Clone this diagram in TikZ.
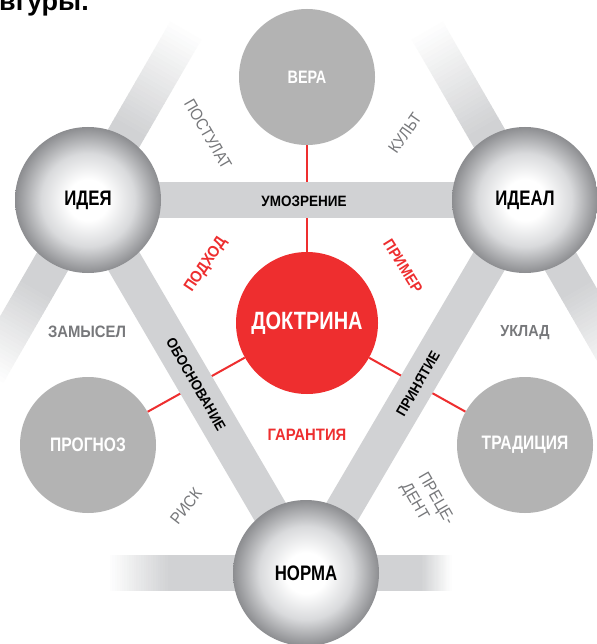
\documentclass[tikz,border=0pt]{standalone}
\usepackage{fontspec}
\setmainfont{Liberation Sans}[FakeStretch=0.9]
\newfontfamily\condfont{Liberation Sans}[FakeStretch=0.8]
\newfontfamily\titlefont{Liberation Sans}
\definecolor{bandc}{HTML}{D1D2D4}
\definecolor{circgray}{HTML}{B3B3B3}
\definecolor{sphgray}{HTML}{8C8D90}
\definecolor{sphmid}{HTML}{D9DADC}
\definecolor{redc}{HTML}{EE2E2F}
\definecolor{labgray}{HTML}{77787B}
\pgfdeclarelayer{bgw}
\pgfdeclarelayer{lines}
\pgfdeclarelayer{bands}
\pgfsetlayers{bgw,lines,bands,main}
\pgfdeclareradialshading{ball}{\pgfpoint{0bp}{0bp}}{color(0bp)=(white); color(7bp)=(white); color(16bp)=(sphmid); color(25bp)=(sphgray); color(50bp)=(sphgray)}
\newcommand\fadeband[4]{%
 \begin{scope}[shift={(#1.center)},rotate=#2]
 \fill[bandc] (0,-18) rectangle (#3+0.5,18);
 \foreach \i in {0,...,24}{%
   \pgfmathtruncatemacro\pc{100-4*\i}%
   \pgfmathsetmacro\xa{#3+#4*\i/25}%
   \pgfmathsetmacro\xb{#3+#4*(\i+1)/25+0.5}%
   \fill[bandc!\pc!white] (\xa,-18) rectangle (\xb,18);
 }%
 \end{scope}}
\tikzset{
 sphere/.style={circle, minimum size=146pt, inner sep=0pt, shade, shading=ball, text=black, font=\condfont\bfseries\fontsize{21}{22}\selectfont},
 flat/.style={circle, minimum size=136pt, inner sep=0pt, fill=circgray, text=white, font=\condfont\bfseries\fontsize{19.5}{20}\selectfont},
 redcirc/.style={circle, minimum size=142pt, inner sep=0pt, fill=redc, text=white, font=\condfont\bfseries\fontsize{25}{26}\selectfont},
 bandline/.style={line width=36pt, draw=bandc},
 redline/.style={line width=2pt, draw=redc},
 bandlab/.style={inner sep=0pt, text=black, font=\bfseries\fontsize{14.5}{15}\selectfont},
 graylab/.style={inner sep=0pt, text=labgray, font=\fontsize{16.5}{20}\selectfont},
 graylabb/.style={inner sep=0pt, text=labgray, font=\bfseries\fontsize{16}{16}\selectfont},
 redlab/.style={inner sep=0pt, text=redc, font=\bfseries\fontsize{15.5}{16}\selectfont},
}
\begin{document}
\begin{tikzpicture}[x=1pt,y=-1pt]
\useasboundingbox (0,0) rectangle (596,644);
\begin{pgfonlayer}{bgw}
\fill[white] (0,0) rectangle (596,644);
\end{pgfonlayer}
% circles
\node[sphere] (idea) at (88,200) {ИДЕЯ};
\node[sphere] (ideal) at (525,200) {ИДЕАЛ};
\node[sphere] (norma) at (306,573) {НОРМА};
\node[flat, font=\condfont\bfseries\fontsize{18}{18}\selectfont] (vera) at (307,77) {ВЕРА};
\node[flat] (prog) at (88,445) {ПРОГНОЗ};
\node[flat] (trad) at (525,445) {ТРАДИЦИЯ};
\node[redcirc] (dokt) at (307,323) {ДОКТРИНА};
% red connectors
\begin{pgfonlayer}{lines}
\draw[redline] (dokt) -- (vera);
\draw[redline] (dokt) -- (prog);
\draw[redline] (dokt) -- (trad);
\end{pgfonlayer}
% bands
\begin{pgfonlayer}{bands}
\draw[bandline] (idea.center) -- (ideal.center);
\draw[bandline] (idea.center) -- (norma.center);
\draw[bandline] (ideal.center) -- (norma.center);
\fadeband{idea}{60}{80}{115}
\fadeband{idea}{240}{100}{100}
\fadeband{ideal}{120}{80}{115}
\fadeband{ideal}{-60}{100}{100}
\fadeband{norma}{180}{136}{60}
\fadeband{norma}{0}{115}{30}
\end{pgfonlayer}
% labels
\node[bandlab, font=\bfseries\fontsize{15}{15}\selectfont] (umoz) at (304,201) {УМОЗРЕНИЕ};
\node[bandlab, rotate=-60] (obos) at (196,384) {ОБОСНОВАНИЕ};
\node[bandlab, rotate=60] (prin) at (418,384) {ПРИНЯТИЕ};
\node[graylab, rotate=-60] (post) at (208,134) {ПОСТУЛАТ};
\node[graylab, rotate=55] (kult) at (405,133) {КУЛЬТ};
\node[graylabb, font=\bfseries\fontsize{16.5}{16}\selectfont] (zam) at (87,332) {ЗАМЫСЕЛ};
\node[graylabb] (ukl) at (525,333) {УКЛАД};
\node[graylab, rotate=52] (risk) at (186,506) {РИСК};
\node[graylab, rotate=-60, align=left] (prec) at (427,504) {ПРЕЦЕ-\\ДЕНТ};
\node[redlab, rotate=56, font=\bfseries\fontsize{16}{16}\selectfont] (podh) at (206,265) {ПОДХОД};
\node[redlab, rotate=-58] (prim) at (403,266) {ПРИМЕР};
\node[redlab, font=\bfseries\fontsize{16.5}{17}\selectfont] (gar) at (307,435) {ГАРАНТИЯ};
\node[anchor=base west, inner sep=0pt, font=\titlefont\bfseries\fontsize{27}{27}\selectfont] (title) at (-1,11) {вгуры.};
\end{tikzpicture}
\end{document}
